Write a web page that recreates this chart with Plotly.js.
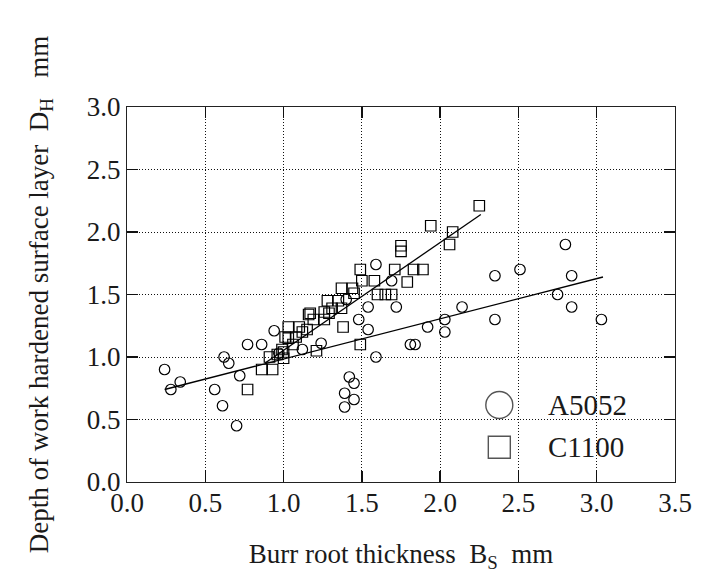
<!DOCTYPE html>
<html>
<head>
<meta charset="utf-8">
<script src="https://cdn.plot.ly/plotly-3.0.1.min.js"></script>
<style>html,body{margin:0;padding:0;background:#fff;}#chart{width:704px;height:578px;}</style>
</head>
<body>
<div id="chart"></div>
<script>
// A5052 (open circles)
const a5052X = [0.24,0.28,0.34,0.56,0.61,0.70,0.62,0.65,0.72,0.77,0.86,0.94,0.97,1.12,1.24,
  1.42,1.45,1.39,1.45,1.39,1.40,1.59,1.69,1.54,1.72,1.48,1.54,1.59,
  1.81,1.84,1.92,2.03,2.03,2.14,2.35,2.35,2.51,2.80,2.84,2.75,2.84,3.03];
const a5052Y = [0.90,0.74,0.80,0.74,0.61,0.45,1.00,0.95,0.85,1.10,1.10,1.21,1.03,1.06,1.11,
  0.84,0.79,0.71,0.66,0.60,1.46,1.74,1.61,1.40,1.40,1.30,1.22,1.00,
  1.10,1.10,1.24,1.30,1.20,1.40,1.65,1.30,1.70,1.90,1.65,1.50,1.40,1.30];
// C1100 (open squares)
const c1100X = [0.77,0.86,0.93,0.91,0.96,1.00,1.00,0.99,1.06,1.03,1.08,1.01,1.03,1.10,1.12,1.15,
  1.16,1.19,1.21,1.26,1.17,1.26,1.29,1.31,1.28,1.35,1.37,1.37,1.44,1.45,1.38,1.49,
  1.49,1.50,1.58,1.60,1.65,1.69,1.71,1.79,1.83,1.89,1.75,1.75,1.94,2.08,2.06,2.25];
const c1100Y = [0.74,0.90,0.90,1.00,1.02,1.04,0.99,1.06,1.10,1.15,1.16,1.16,1.24,1.24,1.20,1.22,
  1.34,1.30,1.05,1.30,1.35,1.36,1.35,1.39,1.45,1.45,1.39,1.55,1.55,1.51,1.24,1.10,
  1.70,1.61,1.61,1.50,1.50,1.50,1.70,1.60,1.70,1.70,1.89,1.845,2.05,2.00,1.90,2.21];
// regression lines (end points)
const fitA_X = [0.24, 3.04];
const fitA_Y = [0.74, 1.64];
const fitC_X = [0.88, 2.26];
const fitC_Y = [0.95, 2.14];
// tick values
const xTicks = [0.0,0.5,1.0,1.5,2.0,2.5,3.0,3.5];
const yTicks = [0.0,0.5,1.0,1.5,2.0,2.5,3.0];
const seriesNames = ['A5052','C1100'];

const FONT = "'Liberation Serif', 'Times New Roman', serif";
const TXT = '#1a1a1a';
const mk = (sym) => ({symbol: sym, size: 10.5, color: 'black', line: {color: 'black', width: 1.2}});

const traces = [
  {x: fitA_X, y: fitA_Y, mode: 'lines', line: {color: 'black', width: 1.3}, showlegend: false, hoverinfo: 'skip'},
  {x: fitC_X, y: fitC_Y, mode: 'lines', line: {color: 'black', width: 1.3}, showlegend: false, hoverinfo: 'skip'},
  {x: a5052X, y: a5052Y, mode: 'markers', name: seriesNames[0], marker: mk('circle-open'), showlegend: false},
  {x: c1100X, y: c1100Y, mode: 'markers', name: seriesNames[1], marker: mk('square-open'), showlegend: false}
];

// legend geometry (paper coords)
const L = {x0: 0.6496, x1: 0.9252, y1: 0.264, gx: 0.6794, tx: 0.7646, yA: 0.2053, yC: 0.0925};

const axisCommon = {
  ticks: 'inside', ticklen: 11, tickwidth: 1.4, tickcolor: '#111',
  showline: true, linecolor: '#222', linewidth: 1.2, mirror: 'ticks',
  showgrid: true, gridcolor: '#111', gridwidth: 1, griddash: '1px,2px',
  zeroline: false, automargin: false,
  tickfont: {family: FONT, size: 27, color: TXT}
};

const layout = {
  width: 704, height: 578,
  margin: {l: 127, r: 29, t: 107, b: 96},
  paper_bgcolor: 'white', plot_bgcolor: 'white',
  font: {family: FONT, size: 27, color: TXT},
  xaxis: Object.assign({}, axisCommon, {
    range: [0, 3.5], tickvals: xTicks, ticktext: xTicks.map(v => v.toFixed(1)),
    ticklabelstandoff: -4,
    title: {text: 'Burr root thickness\u00a0\u00a0B<sub>S</sub>\u00a0\u00a0mm', font: {family: FONT, size: 27, color: TXT}, standoff: 27}
  }),
  yaxis: Object.assign({}, axisCommon, {
    range: [0, 3], tickvals: yTicks, ticktext: yTicks.map(v => v.toFixed(1)),
    ticklabelstandoff: 0,
    title: {text: 'Depth of work hardened surface layer\u00a0\u00a0D<sub>H</sub>\u00a0\u00a0\u00a0mm', font: {family: FONT, size: 27, color: TXT}, standoff: 30}
  }),
  showlegend: false,
  shapes: [
    {type: 'rect', xref: 'paper', yref: 'paper', x0: L.x0, x1: L.x1, y0: 0, y1: L.y1,
     fillcolor: 'white', line: {width: 0}, layer: 'between'},
    {type: 'circle', xref: 'paper', yref: 'paper', xsizemode: 'pixel', ysizemode: 'pixel',
     xanchor: L.gx, yanchor: L.yA, x0: -13.5, x1: 13.5, y0: -13.5, y1: 13.5,
     line: {color: '#555', width: 1.4}, layer: 'above'},
    {type: 'rect', xref: 'paper', yref: 'paper', xsizemode: 'pixel', ysizemode: 'pixel',
     xanchor: L.gx, yanchor: L.yC, x0: -11, x1: 11, y0: -11, y1: 11,
     line: {color: '#555', width: 1.4}, layer: 'above'}
  ],
  annotations: [
    {xref: 'paper', yref: 'paper', x: L.tx, y: L.yA, text: seriesNames[0], showarrow: false,
     xanchor: 'left', yanchor: 'middle', font: {family: FONT, size: 29, color: TXT}},
    {xref: 'paper', yref: 'paper', x: L.tx, y: L.yC, text: seriesNames[1], showarrow: false,
     xanchor: 'left', yanchor: 'middle', font: {family: FONT, size: 29, color: TXT}}
  ]
};

Plotly.newPlot('chart', traces, layout, {displayModeBar: false, staticPlot: true});
</script>
</body>
</html>
